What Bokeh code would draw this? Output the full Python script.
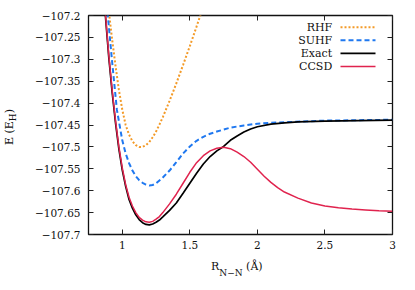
from bokeh.plotting import figure
from bokeh.models import Range1d, LinearAxis, FixedTicker, Label, Arrow, Div
from bokeh.layouts import row, column
from bokeh.embed import file_html
from bokeh.resources import INLINE

# ---------------- data ----------------
series_names = ["RHF", "SUHF", "Exact", "CCSD"]

rhf_r = [0.88, 0.90, 0.925, 0.95, 0.975, 1.00, 1.025, 1.05, 1.075, 1.10, 1.125, 1.15,
         1.175, 1.20, 1.225, 1.25, 1.275, 1.30, 1.35, 1.40, 1.45, 1.50, 1.55, 1.60]
rhf_e = [-107.13, -107.19, -107.255, -107.315, -107.37, -107.415, -107.45, -107.472,
         -107.487, -107.496, -107.500, -107.500, -107.496, -107.489, -107.478, -107.465,
         -107.449, -107.432, -107.395, -107.355, -107.313, -107.270, -107.225, -107.18]

suhf_r = [0.87, 0.893, 0.923, 0.96, 1.00, 1.025, 1.05, 1.075, 1.10, 1.125, 1.15, 1.175,
          1.20, 1.225, 1.25, 1.30, 1.35, 1.40, 1.45, 1.50, 1.55, 1.60, 1.65, 1.70, 1.80,
          1.90, 2.00, 2.10, 2.25, 2.50, 2.75, 3.00]
suhf_e = [-107.12, -107.20, -107.30, -107.415, -107.485, -107.515, -107.537, -107.554,
          -107.567, -107.576, -107.582, -107.586, -107.588, -107.587, -107.583, -107.570,
          -107.554, -107.535, -107.515, -107.499, -107.486, -107.477, -107.470, -107.465,
          -107.456, -107.451, -107.447, -107.445, -107.443, -107.440, -107.439, -107.438]

exact_r = [0.85, 0.875, 0.90, 0.925, 0.95, 0.975, 1.00, 1.025, 1.05, 1.075, 1.10, 1.125,
           1.15, 1.175, 1.20, 1.225, 1.25, 1.275, 1.30, 1.35, 1.40, 1.45, 1.50, 1.55,
           1.60, 1.65, 1.70, 1.75, 1.80, 1.85, 1.90, 1.95, 2.00, 2.10, 2.20, 2.30, 2.50,
           2.75, 3.00]
exact_e = [-107.10, -107.20, -107.295, -107.375, -107.445, -107.505, -107.553, -107.590,
           -107.620, -107.640, -107.655, -107.666, -107.673, -107.677, -107.678, -107.676,
           -107.672, -107.667, -107.660, -107.645, -107.628, -107.606, -107.583, -107.560,
           -107.539, -107.522, -107.509, -107.499, -107.485, -107.475, -107.466, -107.459,
           -107.454, -107.448, -107.445, -107.443, -107.441, -107.440, -107.439]

ccsd_r = [0.85, 0.875, 0.90, 0.925, 0.95, 0.975, 1.00, 1.025, 1.05, 1.075, 1.10, 1.125,
          1.15, 1.175, 1.20, 1.225, 1.25, 1.275, 1.30, 1.35, 1.40, 1.45, 1.50, 1.55,
          1.60, 1.65, 1.70, 1.75, 1.80, 1.85, 1.90, 1.95, 2.00, 2.05, 2.10, 2.15, 2.20,
          2.30, 2.40, 2.50, 2.60, 2.70, 2.80, 2.90, 3.00]
ccsd_e = [-107.09, -107.195, -107.29, -107.37, -107.44, -107.50, -107.548, -107.586,
          -107.615, -107.635, -107.650, -107.661, -107.667, -107.671, -107.672, -107.670,
          -107.665, -107.659, -107.650, -107.630, -107.608, -107.583, -107.558, -107.536,
          -107.520, -107.509, -107.503, -107.501, -107.504, -107.512, -107.522, -107.535,
          -107.551, -107.567, -107.581, -107.593, -107.603, -107.617, -107.628, -107.635,
          -107.639, -107.642, -107.644, -107.646, -107.647]

x_ticks = [1, 1.5, 2, 2.5, 3]
x_tick_labels = ["1", "1.5", "2", "2.5", "3"]
y_ticks = [-107.7, -107.65, -107.6, -107.55, -107.5, -107.45, -107.4, -107.35,
           -107.3, -107.25, -107.2]
y_tick_labels = ["\u2212107.7", "\u2212107.65", "\u2212107.6", "\u2212107.55", "\u2212107.5",
                 "\u2212107.45", "\u2212107.4", "\u2212107.35", "\u2212107.3",
                 "\u2212107.25", "\u2212107.2"]

x_label_main, x_label_sub, x_label_unit = "R", "N\u2212N", " (\u00c5)"
y_label_main, y_label_sub, y_label_end = "E (E", "H", ")"

# ---------------- styles ----------------
FONT = "DejaVu Serif"
TICK_SIZE = "10.5px"
colors = {"RHF": "#F39A27", "SUHF": "#1F78F0", "Exact": "#000000", "CCSD": "#E0234E"}
dashes = {"RHF": "2 2", "SUHF": "5 3", "Exact": "solid", "CCSD": "solid"}
widths = {"RHF": 2.0, "SUHF": 2.0, "Exact": 1.7, "CCSD": 1.5}

YLAB_W = 20
p = figure(width=387, height=258, output_backend="svg", toolbar_location=None,
           x_range=Range1d(0.75, 3), y_range=Range1d(-107.7, -107.2),
           min_border_left=88 - YLAB_W, min_border_right=15, min_border_top=15,
           min_border_bottom=24)
p.grid.visible = False
p.outline_line_color = "#111111"
p.outline_line_width = 1.3
p.background_fill_color = "white"
p.border_fill_color = "white"

data = {"RHF": (rhf_r, rhf_e), "SUHF": (suhf_r, suhf_e),
        "Exact": (exact_r, exact_e), "CCSD": (ccsd_r, ccsd_e)}
for name in ["RHF", "SUHF", "Exact", "CCSD"]:
    xs, ys = data[name]
    p.line(xs, ys, line_color=colors[name], line_dash=dashes[name],
           line_width=widths[name])


def style_axis(ax, show_labels):
    ax.axis_line_color = None
    ax.major_tick_in = 5
    ax.major_tick_out = 0
    ax.major_tick_line_color = "#222222"
    ax.major_tick_line_width = 1
    ax.minor_tick_line_color = None
    if show_labels:
        ax.major_label_text_font = FONT
        ax.major_label_text_font_size = TICK_SIZE
        ax.major_label_text_color = "#111111"
    else:
        ax.major_label_text_font_size = "1px"
        ax.major_label_text_color = None
        ax.major_label_standoff = 0


p.xaxis.ticker = FixedTicker(ticks=x_ticks)
p.yaxis.ticker = FixedTicker(ticks=y_ticks)
p.xaxis.major_label_overrides = {t: s for t, s in zip(x_ticks, x_tick_labels)}
p.yaxis.major_label_overrides = {t: s for t, s in zip(y_ticks, y_tick_labels)}
for ax in p.xaxis:
    style_axis(ax, True)
    ax.major_label_standoff = 6
for ax in p.yaxis:
    style_axis(ax, True)
    ax.major_label_standoff = 8

top = LinearAxis(ticker=FixedTicker(ticks=x_ticks))
style_axis(top, False)
p.add_layout(top, "above")
right = LinearAxis(ticker=FixedTicker(ticks=y_ticks))
style_axis(right, False)
p.add_layout(right, "right")

# ---------------- legend (text left, sample right) ----------------
legend_rows = [207.3, 194.2, 181.1, 168.0]
for name, yrow in zip(series_names, legend_rows):
    p.add_layout(Label(x=243.7, y=yrow, x_units="screen", y_units="screen", text=name,
                       text_font=FONT, text_font_size="11px", text_align="right",
                       text_baseline="middle", text_color="#111111"))
    p.add_layout(Arrow(end=None, x_start=252, y_start=yrow, x_end=287, y_end=yrow,
                       start_units="screen", end_units="screen",
                       line_color=colors[name], line_dash=dashes[name],
                       line_width=widths[name]))

# ---------------- axis titles with subscripts (HTML text) ----------------
base_css = ("font-family:'DejaVu Serif';font-size:11px;line-height:11px;"
            "white-space:nowrap;color:#111111;margin:0;")
xlabel_html = ('<div style="' + base_css + 'padding-left:211px;padding-top:3px;">'
               + x_label_main
               + '<span style="font-size:9px;position:relative;top:6px;">'
               + x_label_sub + '</span>' + x_label_unit + '</div>')
ylabel_html = ('<div style="' + base_css + 'position:relative;left:4px;top:142px;'
               'width:max-content;transform:rotate(-90deg);transform-origin:0 0;">'
               + y_label_main
               + '<span style="font-size:9px;position:relative;top:3px;">'
               + y_label_sub + '</span>' + y_label_end + '</div>')

ydiv = Div(text=ylabel_html, width=YLAB_W, height=258, margin=0)
xdiv = Div(text=xlabel_html, width=407, height=24, margin=0)

layout = column(row(ydiv, p, spacing=0), xdiv, spacing=0)

open("out.html", "w").write(file_html(layout, INLINE))
